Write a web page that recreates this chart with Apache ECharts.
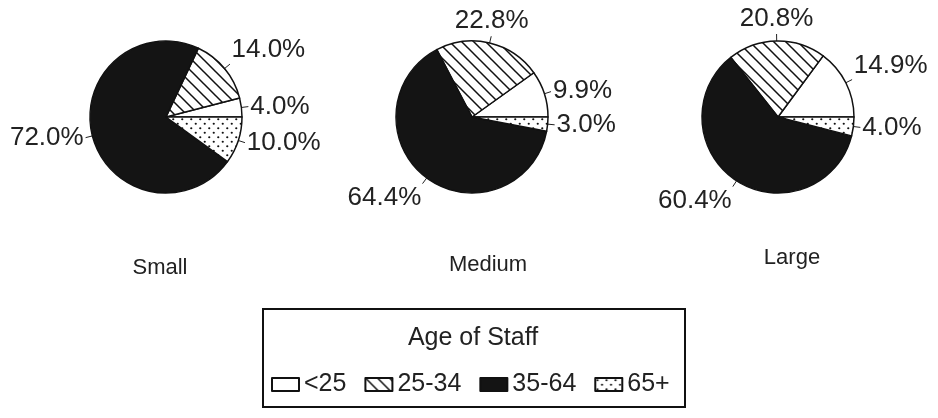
<!DOCTYPE html>
<html>
<head>
<meta charset="utf-8">
<script src="https://cdn.jsdelivr.net/npm/echarts@6/dist/echarts.min.js"></script>
<style>
html,body{margin:0;padding:0;background:#fff;}
#c{width:938px;height:418px;}
</style>
</head>
<body>
<div id="c"></div>
<script>
const ageGroups = ['<25', '25-34', '35-64', '65+'];
const sizeCategories = ['Small', 'Medium', 'Large'];
const smallValues = [4.0, 14.0, 72.0, 10.0];
const mediumValues = [9.9, 22.8, 64.4, 3.0];
const largeValues = [14.9, 20.8, 60.4, 4.0];
const legendTitle = 'Age of Staff';

function hatchPattern() {
  const s = 12;
  const c = document.createElement('canvas');
  c.width = s; c.height = s;
  const g = c.getContext('2d');
  g.fillStyle = '#fff'; g.fillRect(0, 0, s, s);
  g.strokeStyle = '#111'; g.lineWidth = 1.5;
  g.beginPath();
  g.moveTo(-2, -2); g.lineTo(s + 2, s + 2);
  g.moveTo(s - 2, -2); g.lineTo(s + 2, 2);
  g.moveTo(-2, s - 2); g.lineTo(2, s + 2);
  g.stroke();
  return c;
}
function dotPattern() {
  const s = 9;
  const c = document.createElement('canvas');
  c.width = s; c.height = s;
  const g = c.getContext('2d');
  g.fillStyle = '#fff'; g.fillRect(0, 0, s, s);
  g.fillStyle = '#111';
  g.beginPath(); g.arc(2.25, 2.25, 1.1, 0, Math.PI * 2); g.fill();
  g.beginPath(); g.arc(6.75, 6.75, 1.1, 0, Math.PI * 2); g.fill();
  return c;
}
const fills = [
  '#ffffff',
  { image: hatchPattern(), repeat: 'repeat' },
  '#141414',
  { image: dotPattern(), repeat: 'repeat' }
];

const fontFamily = '"Liberation Sans", Arial, Helvetica, sans-serif';
const centers = [[166, 117], [472, 117], [778, 117]];
const valueSets = [smallValues, mediumValues, largeValues];

// Radial label placement: label box touches a point just beyond the leader line end
function radialLabelLayout(params) {
  const pts = params.labelLinePoints;
  if (!pts || pts.length < 2) return {};
  const p0 = pts[0], p1 = pts[1];
  const dx = p1[0] - p0[0], dy = p1[1] - p0[1];
  const len = Math.sqrt(dx * dx + dy * dy) || 1;
  const ux = dx / len, uy = dy / len;
  const gap = 2;
  const ax = p1[0] + ux * gap, ay = p1[1] + uy * gap;
  const align = ux > 0.3 ? 'left' : (ux < -0.3 ? 'right' : 'center');
  const vAlign = uy < -0.4 ? 'bottom' : (uy > 0.4 ? 'top' : 'middle');
  return {
    x: ax, y: ay, align: align, verticalAlign: vAlign,
    labelLinePoints: [p0, p1]
  };
}

const series = valueSets.map((vals, i) => ({
  type: 'pie',
  center: centers[i],
  radius: 76,
  startAngle: 0,
  clockwise: false,
  avoidLabelOverlap: false,
  silent: true,
  itemStyle: { borderColor: '#111', borderWidth: 1.5 },
  label: {
    show: true,
    position: 'outside',
    overflow: 'none',
    fontFamily: fontFamily,
    fontSize: 26,
    color: '#222',
    formatter: p => p.value.toFixed(1) + '%'
  },
  labelLine: { show: true, length: 7, length2: 0, smooth: false, lineStyle: { color: '#222', width: 1 } },
  labelLayout: radialLabelLayout,
  data: vals.map((v, k) => ({ name: ageGroups[k], value: v, itemStyle: { color: fills[k] } }))
}));

const catPos = [[160, 268], [488, 265], [792, 258]];
const graphics = sizeCategories.map((t, i) => ({
  type: 'text',
  x: catPos[i][0],
  y: catPos[i][1],
  style: {
    text: t, align: 'center', verticalAlign: 'middle',
    font: '22px ' + fontFamily, fill: '#222'
  }
}));
graphics.push({
  type: 'text',
  x: 473,
  y: 338,
  style: {
    text: legendTitle, align: 'center', verticalAlign: 'middle',
    font: '25px ' + fontFamily, fill: '#222'
  }
});
graphics.push({
  type: 'rect',
  shape: { x: 263, y: 309, width: 422, height: 98 },
  style: { fill: 'none', stroke: '#111', lineWidth: 2 }
});

const chart = echarts.init(document.getElementById('c'), null, { renderer: 'canvas' });
chart.setOption({
  backgroundColor: '#fff',
  animation: false,
  color: fills,
  legend: {
    data: ageGroups,
    left: 266,
    top: 367,
    icon: 'rect',
    itemWidth: 27,
    itemHeight: 13,
    itemGap: 18,
    selectedMode: false,
    textStyle: { fontFamily: fontFamily, fontSize: 25, color: '#222' }
  },
  graphic: graphics,
  series: series
});
</script>
</body>
</html>
